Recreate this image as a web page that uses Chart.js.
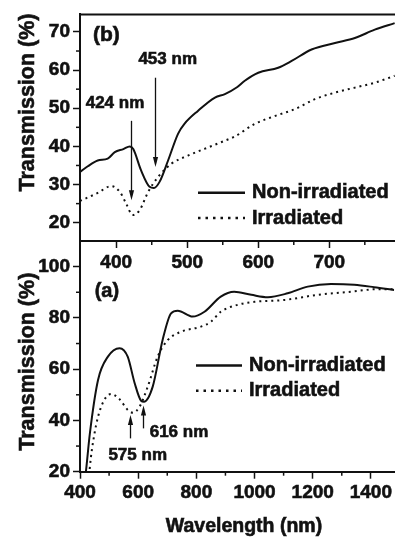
<!DOCTYPE html>
<html>
<head>
<meta charset="utf-8">
<script src="https://cdn.jsdelivr.net/npm/chart.js@4.4.1/dist/chart.umd.min.js"></script>
<style>
  html, body { margin: 0; padding: 0; background: #fff; }
  #wrap { position: relative; width: 395px; height: 537px; overflow: hidden; }
  canvas { position: absolute; left: 0; top: 0; }
</style>
</head>
<body>
<div id="wrap">
  <canvas id="chartA" width="395" height="537"></canvas>
  <canvas id="chartB" width="395" height="537"></canvas>
</div>
<script>
const INK = "#111"
const FONT = '"Liberation Sans", Arial, Helvetica, sans-serif'

// panel (b): visible range
const wlB_non = [349, 360, 374, 388, 398, 410, 419, 424, 435, 447, 453, 461, 473, 487, 496, 515, 539, 553, 570, 581, 600, 628, 647, 675, 708, 736, 764, 792]
const tB_non = [33.3, 34.8, 36.3, 36.8, 38.5, 39.3, 40.0, 39.3, 33.7, 29.4, 29.1, 30.7, 36.3, 43.3, 45.9, 49.3, 52.8, 53.7, 55.5, 57.2, 59.3, 60.6, 62.4, 65.4, 67.1, 68.4, 70.6, 72.3]
const wlB_irr = [349, 374, 393, 405, 414, 423, 433, 445, 459, 478, 501, 525, 553, 567, 595, 624, 652, 680, 708, 736, 764, 792]
const tB_irr = [25.7, 27.8, 29.6, 28.1, 25.0, 22.0, 23.3, 28.1, 32.0, 35.5, 37.6, 39.4, 41.5, 42.6, 45.9, 48.0, 49.8, 52.4, 54.1, 55.4, 56.7, 58.5]
const xTicksB = [400, 500, 600, 700]
const xMinorB = [450, 550, 650, 750]
const yTicksB = [20, 30, 40, 50, 60, 70]
const yMinorB = [25, 35, 45, 55, 65]

// panel (a): full range
const wlA_non = [405, 421, 434, 462, 496, 536, 564, 588, 610, 620, 650, 684, 713, 736, 787, 828, 884, 930, 989, 1046, 1114, 1183, 1263, 1343, 1411, 1480]
const tA_non = [5, 20.7, 35.0, 55.8, 64.9, 68.2, 64.9, 54.5, 47.7, 47.3, 53.2, 71.4, 81.8, 82.8, 80.5, 82.4, 88.3, 90.2, 89.0, 88.1, 89.6, 92.2, 93.2, 92.9, 92.0, 90.9]
const wlA_irr = [420, 433, 450, 473, 507, 536, 564, 582, 605, 633, 667, 702, 747, 816, 850, 884, 942, 1000, 1103, 1217, 1331, 1423, 1480]
const tA_irr = [0, 20.7, 35.0, 45.4, 50.3, 48.3, 44.1, 43.0, 45.4, 53.2, 64.9, 71.4, 74.6, 76.6, 78.5, 82.4, 85.1, 86.3, 87.0, 89.0, 90.2, 91.2, 91.2]
const xTicksA = [400, 600, 800, 1000, 1200, 1400]
const xMinorA = [500, 700, 900, 1100, 1300]
const yTicksA = [20, 40, 60, 80, 100]
const yMinorA = [30, 50, 70, 90]

const pts = (xs, ys) => xs.map((x, i) => ({ x, y: ys[i] }))

const solid = { borderColor: INK, borderWidth: 2, pointRadius: 0, cubicInterpolationMode: "monotone" }
const dotted = { borderColor: INK, borderWidth: 2, borderDash: [2, 4], pointRadius: 0, cubicInterpolationMode: "monotone" }

// heavier bold text, like the scanned figure
function boldText(ctx, text, x, y) {
  ctx.lineWidth = 0.6
  ctx.strokeText(text, x, y)
  ctx.fillText(text, x, y)
}

// extra drawing: frame top, minor ticks, arrows, labels, legend, titles
const overlay = {
  id: "overlay",
  afterDraw(chart, _args, o) {
    const { ctx, chartArea: a, scales: { x, y } } = chart
    ctx.save()
    ctx.strokeStyle = INK
    ctx.fillStyle = INK

    ctx.lineWidth = 2
    ctx.beginPath()
    ctx.moveTo(a.left - 1, a.top)
    ctx.lineTo(a.right, a.top)
    ctx.stroke()

    ctx.lineWidth = 1.5
    o.minorX.forEach((v) => {
      const p = x.getPixelForValue(v)
      ctx.beginPath()
      ctx.moveTo(p, a.bottom)
      ctx.lineTo(p, a.bottom + 4)
      ctx.stroke()
    })
    o.minorY.forEach((v) => {
      const p = y.getPixelForValue(v)
      ctx.beginPath()
      ctx.moveTo(a.left, p)
      ctx.lineTo(a.left - 4, p)
      ctx.stroke()
    })

    o.arrows.forEach(([xv, y0, y1]) => {
      const px = Math.round(x.getPixelForValue(xv)) + 0.5
      const p0 = y.getPixelForValue(y0)
      const p1 = y.getPixelForValue(y1)
      const dir = Math.sign(p1 - p0)
      ctx.lineWidth = 1.3
      ctx.beginPath()
      ctx.moveTo(px, p0)
      ctx.lineTo(px, p1 - dir * 8)
      ctx.stroke()
      ctx.beginPath()
      ctx.moveTo(px, p1)
      ctx.lineTo(px - 2.6, p1 - dir * 10)
      ctx.lineTo(px + 2.6, p1 - dir * 10)
      ctx.closePath()
      ctx.fill()
    })

    ctx.textBaseline = "middle"
    o.labels.forEach(([text, px, py, size, align]) => {
      ctx.font = `bold ${size}px ${FONT}`
      ctx.textAlign = align
      boldText(ctx, text, px, py)
    })

    const lg = o.legend
    chart.data.datasets.forEach((ds, i) => {
      const ly = lg.y[i]
      ctx.lineWidth = 2.5
      ctx.setLineDash(ds.borderDash ? [2.5, 5] : [])
      ctx.beginPath()
      ctx.moveTo(lg.x0, ly)
      ctx.lineTo(lg.x1, ly)
      ctx.stroke()
      ctx.setLineDash([])
      ctx.font = `bold 20px ${FONT}`
      ctx.textAlign = "left"
      boldText(ctx, ds.label, lg.tx, ly)
    })

    ctx.font = `bold 21.5px ${FONT}`
    ctx.textAlign = "center"
    ctx.save()
    ctx.translate(o.yTitle.x, o.yTitle.y)
    ctx.rotate(-Math.PI / 2)
    boldText(ctx, o.yTitle.text, 0, 0)
    ctx.restore()
    if (o.xTitle) {
      ctx.font = `bold 19.5px ${FONT}`
      boldText(ctx, o.xTitle.text, o.xTitle.x, o.xTitle.y)
    }
    ctx.restore()
  },
}

function axes(xr, yr, xTicks, yTicks, xHeight) {
  const tickFont = { family: FONT, size: 19, weight: "bold" }
  const tickText = { color: INK, font: tickFont, textStrokeColor: INK, textStrokeWidth: 0.6, autoSkip: false, callback: (v) => String(v) }
  return {
    x: {
      type: "linear",
      min: xr[0],
      max: xr[1],
      afterBuildTicks: (s) => { s.ticks = xTicks.map((v) => ({ value: v })) },
      afterFit: (s) => { s.height = xHeight },
      grid: { drawOnChartArea: false, tickLength: 7, tickWidth: 1.5, tickColor: INK },
      border: { color: INK, width: 2 },
      ticks: { ...tickText, padding: 3, maxRotation: 0 },
    },
    y: {
      type: "linear",
      min: yr[0],
      max: yr[1],
      afterBuildTicks: (s) => { s.ticks = yTicks.map((v) => ({ value: v })) },
      afterFit: (s) => { s.width = 80 },
      grid: { drawOnChartArea: false, tickLength: 7, tickWidth: 1.5, tickColor: INK },
      border: { color: INK, width: 2 },
      ticks: { ...tickText, padding: 3 },
    },
  }
}

// bottom panel (a)
new Chart(document.getElementById("chartA"), {
  type: "line",
  data: {
    datasets: [
      { label: "Non-irradiated", data: pts(wlA_non, tA_non), ...solid },
      { label: "Irradiated", data: pts(wlA_irr, tA_irr), ...dotted },
    ],
  },
  options: {
    responsive: false,
    animation: false,
    devicePixelRatio: 1,
    layout: { padding: { top: 241, left: 0, right: 0, bottom: 0 } },
    scales: axes([400, 1480], [20, 110], xTicksA, yTicksA, 65.3),
    plugins: {
      legend: { display: false },
      tooltip: { enabled: false },
      overlay: {
        minorX: xMinorA,
        minorY: yMinorA,
        arrows: [[572, 33.0, 42.1], [616, 36.9, 45.8]],
        labels: [
          ["(a)", 94.7, 291.7, 20, "left"],
          ["616 nm", 149.7, 432.7, 17, "left"],
          ["575 nm", 137.7, 455, 17, "center"],
        ],
        legend: { x0: 196, x1: 242, tx: 249, y: [365.5, 390.7] },
        yTitle: { text: "Transmission (%)", x: 28, y: 361.7 },
        xTitle: { text: "Wavelength (nm)", x: 244, y: 527 },
      },
    },
  },
  plugins: [overlay],
})

// top panel (b)
new Chart(document.getElementById("chartB"), {
  type: "line",
  data: {
    datasets: [
      { label: "Non-irradiated", data: pts(wlB_non, tB_non), ...solid },
      { label: "Irradiated", data: pts(wlB_irr, tB_irr), ...dotted },
    ],
  },
  options: {
    responsive: false,
    animation: false,
    devicePixelRatio: 1,
    layout: { padding: { top: 13, left: 0, right: 0, bottom: 0 } },
    scales: axes([349, 792.5], [15.2, 74.6], xTicksB, yTicksB, 296),
    plugins: {
      legend: { display: false },
      tooltip: { enabled: false },
      overlay: {
        minorX: xMinorB,
        minorY: yMinorB,
        arrows: [[421, 46.7, 25.9], [455, 58.0, 34.6]],
        labels: [
          ["(b)", 93, 35, 21, "left"],
          ["453 nm", 167.7, 59.3, 17, "center"],
          ["424 nm", 115, 103.3, 17, "center"],
        ],
        legend: { x0: 198, x1: 245, tx: 252, y: [192.7, 218] },
        yTitle: { text: "Transmission (%)", x: 28, y: 102.5 },
      },
    },
  },
  plugins: [overlay],
})
</script>
</body>
</html>
